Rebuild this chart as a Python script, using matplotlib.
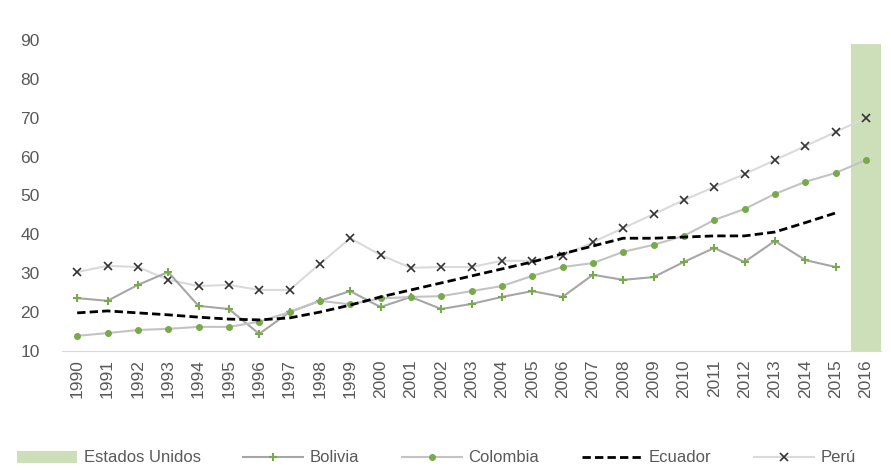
import matplotlib
matplotlib.use("Agg")
import matplotlib.pyplot as plt
import numpy as np

plt.rcParams['font.family'] = ['Liberation Sans Narrow', 'Liberation Sans', 'DejaVu Sans']

years = [str(y) for y in range(1990, 2017)]

estados_unidos = [None] * 26 + [89.0]
bolivia = [23.6, 22.9, 27.0, 30.3, 21.6, 20.8, 14.4, 20.0, 22.9, 25.4,
           21.3, 23.9, 20.8, 22.1, 23.9, 25.4, 23.9, 29.6, 28.3, 29.0,
           32.9, 36.5, 32.9, 38.3, 33.4, 31.6]
colombia = [13.9, 14.6, 15.4, 15.7, 16.2, 16.2, 17.5, 20.0, 22.9, 22.0,
            23.5, 23.9, 24.1, 25.4, 26.7, 29.3, 31.6, 32.6, 35.5, 37.3,
            39.6, 43.7, 46.5, 50.4, 53.5, 55.8, 59.1]
ecuador = [19.8, 20.3, 19.8, 19.3, 18.7, 18.2, 18.0, 18.5, 20.0, 21.8,
           23.9, 25.7, 27.5, 29.3, 31.1, 32.9, 35.0, 37.0, 39.0, 39.0,
           39.3, 39.6, 39.6, 40.6, 43.0, 45.5]
peru = [30.3, 31.9, 31.6, 28.3, 26.7, 27.0, 25.7, 25.7, 32.4, 39.0,
        34.7, 31.4, 31.6, 31.6, 33.2, 33.2, 34.4, 38.0, 41.6, 45.2,
        48.8, 52.2, 55.5, 59.1, 62.7, 66.3, 70.0]

green = '#78a94a'
fig = plt.figure(figsize=(8.91, 4.72), dpi=100)
ax = fig.add_axes([0.0696, 0.2564, 0.9192, 0.6589])

x = np.arange(len(years))
us_vals = [v if v is not None else 0 for v in estados_unidos]
ax.bar(x, us_vals, width=1.0, color='#cddfb9', label='Estados Unidos', zorder=1)

ax.plot(x[:len(bolivia)], bolivia, color='#a6a6a6', lw=1.5, marker='+',
        ms=6, mew=1.5, mec=green, label='Bolivia', zorder=3)
ax.plot(x[:len(colombia)], colombia, color='#c3c3c3', lw=1.5, marker='o',
        ms=4, mfc=green, mec=green, label='Colombia', zorder=3)
ax.plot(x[:len(ecuador)], ecuador, color='black', lw=2, ls=(0, (3, 1.5)),
        label='Ecuador', zorder=4)
ax.plot(x[:len(peru)], peru, color='#dadada', lw=1.5, marker='x',
        ms=6, mew=1.2, mec='#333333', label='Perú', zorder=2)

ax.set_xlim(-0.5, len(years) - 0.5)
ax.set_ylim(10, 90)
ax.set_yticks(range(10, 91, 10))
ax.set_xticks(x)
ax.set_xticklabels(years, rotation=90)
ax.tick_params(axis='both', length=0, labelsize=12.5, colors='#595959', pad=6)
ax.tick_params(axis='y', pad=16)
for side in ['top', 'right', 'left']:
    ax.spines[side].set_visible(False)
ax.spines['bottom'].set_color('#d9d9d9')

handles, labels = ax.get_legend_handles_labels()
order = ['Estados Unidos', 'Bolivia', 'Colombia', 'Ecuador', 'Perú']
hmap = dict(zip(labels, handles))
fig.legend([hmap[k] for k in order], order, loc='center left',
           bbox_to_anchor=(0.006, 1 - 458 / 472), ncol=5, frameon=False,
           fontsize=12, handlelength=3.6, columnspacing=2.55, handletextpad=0.4,
           labelcolor='#595959', borderaxespad=0.3)

fig.savefig('out.png', dpi=100)
